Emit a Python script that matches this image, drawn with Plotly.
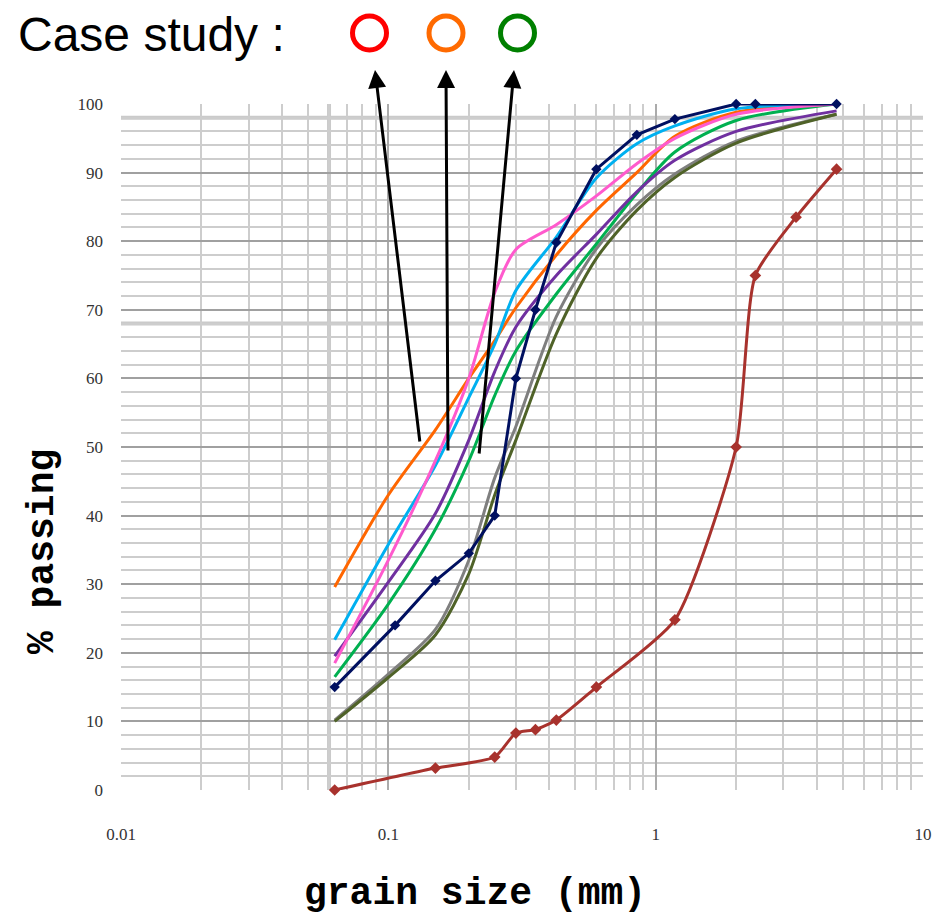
import plotly.graph_objects as go

# ---- data: % passing versus grain size (mm) ----
sieve_mm = [0.063, 0.1, 0.15, 0.2, 0.25, 0.3, 0.425, 0.6, 0.85, 1.18, 2.0, 4.75]

orange_pass = [29.6, 43.0, 52.5, 60.0, 65.5, 70.3, 78.0, 84.5, 90.0, 95.3, 98.8, 100]
pink_pass = [18.5, 33.5, 48.0, 60.0, 72.5, 78.8, 82.4, 86.6, 91.3, 95.0, 98.5, 100]
cyan_pass = [21.9, 35.8, 47.3, 57.2, 65.0, 72.8, 80.6, 89.2, 94.2, 96.8, 99.3, 100]
purple_pass = [19.5, 30.3, 40.3, 51.0, 61.0, 67.5, 75.0, 81.0, 87.2, 91.8, 96.0, 99.0]
green_pass = [16.5, 27.1, 38.0, 48.0, 57.5, 64.0, 72.3, 79.6, 87.0, 93.0, 97.6, 100]
gray_pass = [10.2, 16.9, 23.4, 33.5, 45.5, 53.0, 69.0, 78.9, 85.3, 89.8, 94.6, 98.5]
olive_pass = [10.0, 16.4, 22.6, 31.5, 43.0, 51.0, 66.5, 77.5, 84.5, 89.3, 94.3, 98.5]

navy_mm = [0.063, 0.106, 0.15, 0.2, 0.25, 0.3, 0.355, 0.425, 0.6, 0.85, 1.18, 2.0, 2.36, 4.75]
navy_pass = [15.0, 24.0, 30.5, 34.5, 40.0, 60.0, 70.0, 79.8, 90.5, 95.5, 97.8, 100, 100, 100]

brown_mm = [0.063, 0.15, 0.25, 0.3, 0.355, 0.425, 0.6, 1.18, 2.0, 2.36, 3.35, 4.75]
brown_pass = [0.0, 3.2, 4.8, 8.3, 8.8, 10.2, 15.0, 24.8, 50.0, 75.0, 83.5, 90.5]

x_tick_vals = [0.01, 0.1, 1, 10]
x_tick_text = ["0.01", "0.1", "1", "10"]
y_tick_vals = [0, 10, 20, 30, 40, 50, 60, 70, 80, 90, 100]

x_title = "grain size (mm)"
y_title = "% passing"
case_label = "Case study :"

# ---- figure ----
fig = go.Figure()

smooth_series = [
    (gray_pass, "#7F7F7F"),
    (olive_pass, "#4F6228"),
    (green_pass, "#00B050"),
    (purple_pass, "#7030A0"),
    (orange_pass, "#FF6600"),
    (cyan_pass, "#00B0F0"),
    (pink_pass, "#FF5ACD"),
]

fig.add_trace(go.Scatter(
    x=brown_mm, y=brown_pass, mode="lines+markers",
    line=dict(color="#A8322D", width=3, shape="spline", smoothing=0.6),
    marker=dict(symbol="diamond", size=9, color="#A8322D"),
    cliponaxis=False, showlegend=False,
))

for vals, col in smooth_series:
    fig.add_trace(go.Scatter(
        x=sieve_mm, y=vals, mode="lines",
        line=dict(color=col, width=3, shape="spline", smoothing=0.8),
        cliponaxis=False, showlegend=False,
    ))

fig.add_trace(go.Scatter(
    x=navy_mm, y=navy_pass, mode="lines+markers",
    line=dict(color="#001060", width=3),
    marker=dict(symbol="diamond", size=8, color="#001060"),
    cliponaxis=False, showlegend=False,
))

# plot-area geometry in page pixels
L, R, T, B = 121, 923, 104, 790
W, H = 938, 923


def px(x):
    return (x - L) / (R - L)


def py(y):
    return (B - y) / (B - T)


minor_x = [m * 10 ** e for e in (-2, -1, 0) for m in range(2, 10)]

tick_font = dict(family="Liberation Serif, DejaVu Serif, serif", size=17, color="#333333")

fig.update_layout(
    width=W, height=H,
    margin=dict(l=L, r=W - R, t=T, b=H - B, autoexpand=False),
    paper_bgcolor="white", plot_bgcolor="white",
    xaxis=dict(
        type="log", range=[-2, 1], automargin=False,
        tickvals=x_tick_vals, ticktext=x_tick_text,
        showgrid=True, gridcolor="#ABABAB", gridwidth=2,
        minor=dict(tickvals=minor_x, showgrid=True, gridcolor="#CDCDCD", gridwidth=2),
        zeroline=False, showline=False, ticks="",
        ticklabelstandoff=32, tickfont=tick_font,
    ),
    yaxis=dict(
        range=[0, 100], tickvals=y_tick_vals, automargin=False,
        showgrid=True, gridcolor="#A0A0A0", gridwidth=2,
        minor=dict(dtick=2, showgrid=True, gridcolor="#CDCDCD", gridwidth=2),
        zeroline=False, showline=False, ticks="",
        ticklabelstandoff=17, tickfont=tick_font,
    ),
)

# heavier grid bands
fig.add_shape(type="line", xref="x", yref="paper", x0=0.06, x1=0.06, y0=0, y1=1,
              line=dict(color="#CACACA", width=4), layer="below")
for band in (98, 68):
    fig.add_shape(type="line", xref="paper", yref="y", x0=0, x1=1, y0=band, y1=band,
                  line=dict(color="#CACACA", width=4), layer="below")

title_font = dict(family="Liberation Mono, Courier New, monospace", size=38, color="black")

annotations = [
    dict(text=f"<b>{x_title}</b>", x=px(475), y=py(893), xref="paper", yref="paper",
         xanchor="center", yanchor="middle", showarrow=False, font=title_font),
    dict(text=f"<b>{y_title}</b>", x=px(42), y=py(552), xref="paper", yref="paper",
         xanchor="center", yanchor="middle", showarrow=False, textangle=-90, font=title_font),
    dict(text=case_label, x=px(16), y=py(34), xref="paper", yref="paper",
         xanchor="left", yanchor="middle", showarrow=False,
         font=dict(family="Liberation Sans, Arial, sans-serif", size=48, color="black")),
]

# arrows pointing from the curves up to the case-study markers: (tip, tail) in pixels
arrow_paths = [((375, 70), (420, 443)), ((446, 70), (448, 452)), ((514, 70), (479, 455))]
for (tx, ty), (sx, sy) in arrow_paths:
    annotations.append(dict(
        text="", x=px(tx), y=py(ty), xref="paper", yref="paper",
        ax=sx - tx, ay=sy - ty, axref="pixel", ayref="pixel",
        showarrow=True, arrowhead=2, arrowsize=1.2, arrowwidth=3,
        arrowcolor="black", standoff=0, startstandoff=0,
    ))

fig.update_layout(annotations=annotations)

# case-study ring markers
rings = [(369.5, 33, "#FF0000"), (446, 33, "#FF6A00"), (517.5, 33, "#008000")]
r = 17
for cx, cy, col in rings:
    fig.add_shape(type="circle", xref="paper", yref="paper",
                  x0=px(cx - r), x1=px(cx + r), y0=py(cy + r), y1=py(cy - r),
                  line=dict(color=col, width=5), fillcolor="rgba(0,0,0,0)")

fig.write_html("out.html")
